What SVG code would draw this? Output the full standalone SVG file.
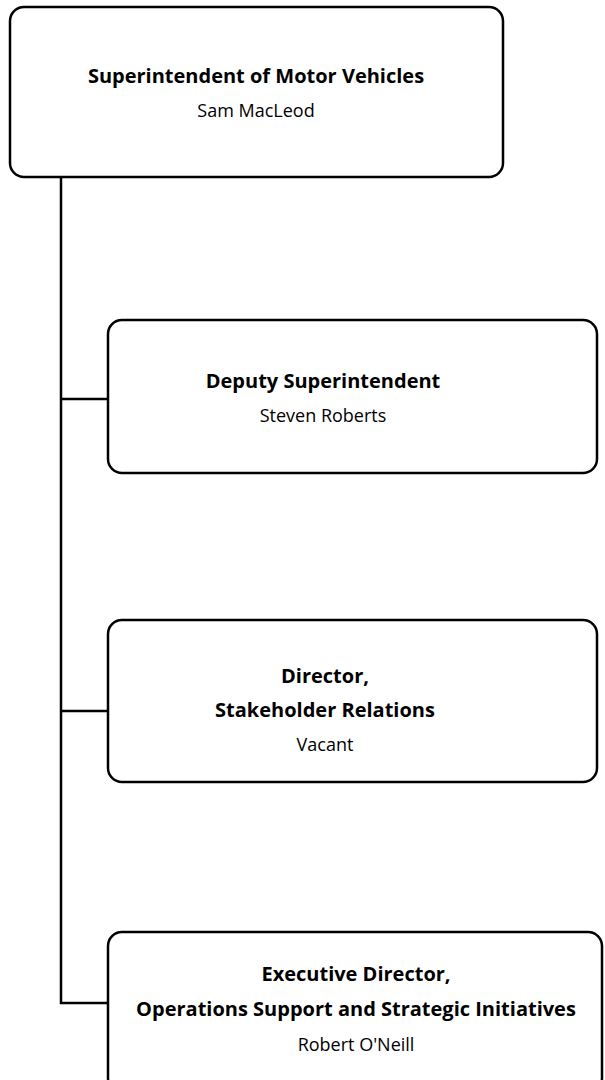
<svg xmlns="http://www.w3.org/2000/svg" width="605" height="1080" viewBox="0 0 605 1080">
<style>
.box{fill:#fff;stroke:#000;stroke-width:2.5}
.ln{fill:none;stroke:#000;stroke-width:2.5}
text{font-family:"Open Sans","Liberation Sans",sans-serif;font-size:18px;fill:#000;text-anchor:middle}
.b{font-weight:bold;font-size:20px}
</style>
<rect width="605" height="1080" fill="#fff"/>
<g id="connectors">
<path class="ln" d="M61,177 V1003 H108"/>
<path class="ln" d="M61,399 H108"/>
<path class="ln" d="M61,711 H108"/>
</g>
<g id="n1">
<rect class="box" x="10" y="7" width="493" height="170" rx="14"/>
<text class="b" x="256" y="83">Superintendent of Motor Vehicles</text>
<text x="256" y="117">Sam MacLeod</text>
</g>
<g id="n2">
<rect class="box" x="108" y="320" width="489" height="153" rx="14"/>
<text class="b" x="323" y="388">Deputy Superintendent</text>
<text x="323" y="422">Steven Roberts</text>
</g>
<g id="n3">
<rect class="box" x="108" y="620" width="489" height="162" rx="14"/>
<text class="b" x="325" y="683">Director,</text>
<text class="b" x="325" y="717">Stakeholder Relations</text>
<text x="325" y="751">Vacant</text>
</g>
<g id="n4">
<rect class="box" x="108" y="932" width="494" height="160" rx="14"/>
<text class="b" x="356" y="981">Executive Director,</text>
<text class="b" x="356" y="1016">Operations Support and Strategic Initiatives</text>
<text x="356" y="1051">Robert O'Neill</text>
</g>
</svg>
